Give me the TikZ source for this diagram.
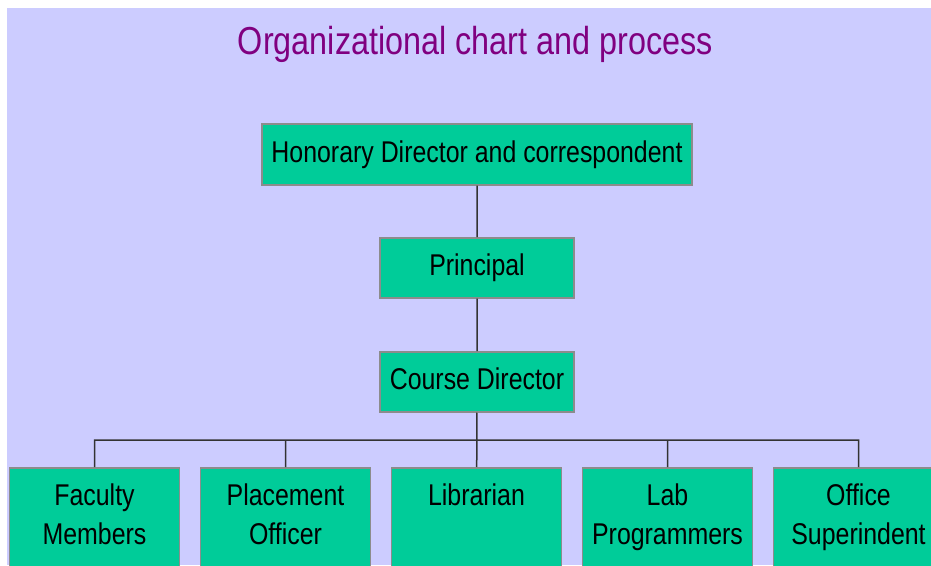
\documentclass[tikz,border=0pt]{standalone}
\usepackage{fontspec}
\newfontfamily\chartfont[FakeStretch=0.83]{Liberation Sans}
\usetikzlibrary{positioning}
\definecolor{sheet}{HTML}{CCCCFF}
\definecolor{boxfill}{HTML}{00CC99}
\definecolor{boxline}{HTML}{8C8C8C}
\definecolor{titlecol}{HTML}{800080}
\tikzset{x=1pt, y=1pt, % One unit is one pixel of the reference
every node/.style={ % Sets the font for all texts
font=\chartfont\fontsize{30}{39}\selectfont},
post/.style={ % Boxes of the upper three levels
draw=boxline,
line width=1.5pt,
fill=boxfill,
inner sep=4pt,
text height=22pt,
text depth=6pt},
staff/.style={ % Boxes of the bottom row, text at the top
post,
minimum width=170pt,
align=center,
anchor=north,
inner ysep=16pt,
text height=,
text depth=40pt},
link/.style={ % Connecting lines
draw=black!80,
line width=1.5pt}}

\begin{document}
\begin{tikzpicture}
\useasboundingbox (0,0) rectangle (931,565);
\fill[sheet] (7,0) rectangle (931,557);
\node[titlecol, anchor=base, font=\chartfont\fontsize{39}{45}\selectfont] (title) at (475.5,510) {Organizational chart and process};
\node[post, minimum width=430pt, minimum height=61pt] (hon) at (477,410.5) {Honorary Director and correspondent};
\node[post, minimum width=194pt, minimum height=60pt] (prin) at (477,297) {Principal};
\node[post, minimum width=194pt, minimum height=60pt] (course) at (477,183) {Course Director};
\node[staff] (fac) at (94.5,98) {Faculty\\Members};
\node[staff] (plac) at (285.5,98) {Placement\\Officer};
\node[staff] (lib) at (476.5,98) {Librarian\\\mbox{}};
\node[staff] (lab) at (667.5,98) {Lab\\Programmers};
\node[staff] (off) at (858.5,98) {Office\\Superindent};
\coordinate (bar) at (476.5,125);
\draw[link] (hon) -- (prin)
(prin) -- (course)
(course) -- (lib)
(fac.north) |- (bar) -| (off.north)
(plac.north) -- (plac.north |- bar)
(lab.north) -- (lab.north |- bar);
\end{tikzpicture}
\end{document}
